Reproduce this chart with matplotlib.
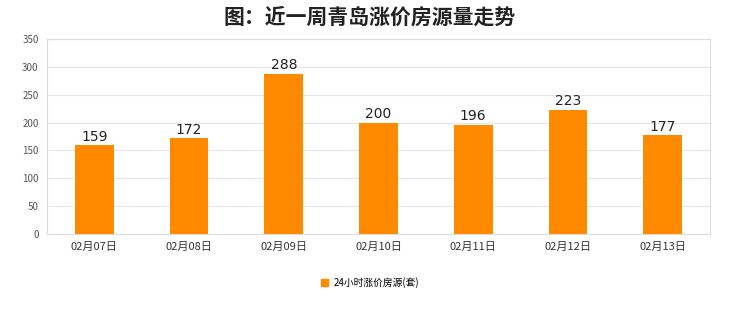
import numpy as np
import matplotlib.pyplot as plt
from matplotlib.patches import Patch

plt.rcParams['font.family'] = ['Noto Sans CJK SC', 'DejaVu Sans']

dates = ["02月07日", "02月08日", "02月09日", "02月10日", "02月11日", "02月12日", "02月13日"]
counts = [159, 172, 288, 200, 196, 223, 177]
series_name = "24小时涨价房源(套)"
bar_color = "#ff8a00"

fig = plt.figure(figsize=(7.4, 3.12), dpi=100)
ax = fig.add_axes([0.0635, 0.25, 0.896, 0.625])

x = np.arange(len(dates))
bars = ax.bar(x, counts, width=0.41, color=bar_color, zorder=3)
for xi, v in zip(x, counts):
    ax.text(xi, v + 3, str(v), ha="center", va="bottom", fontsize=10, color="#222222",
            family=['DejaVu Sans'])

ax.set_xlim(-0.5, len(dates) - 0.5)
ax.set_ylim(0, 350)
ax.set_yticks(range(0, 351, 50))
ax.set_xticks(x)
ax.set_xticklabels(dates, fontsize=8, color="#333333")
ax.tick_params(axis="y", labelsize=7, colors="#555555", length=0, pad=6)
ax.tick_params(axis="x", length=0, pad=6)
ax.grid(axis="y", color="#e6e6e6", linewidth=0.8, zorder=0)
for s in ax.spines.values():
    s.set_color("#dddddd")
    s.set_linewidth(0.8)

fig.text(0.5, 0.945, "图：近一周青岛涨价房源量走势", ha="center", va="center",
         fontsize=15, fontweight="bold", color="#222222")

fig.legend(handles=[Patch(color=bar_color, label=series_name)], loc="center",
           bbox_to_anchor=(0.5, 0.095), frameon=False, fontsize=7,
           handlelength=0.7, handleheight=0.7, handletextpad=0.6)

fig.savefig("out.png", dpi=100, facecolor="white")
